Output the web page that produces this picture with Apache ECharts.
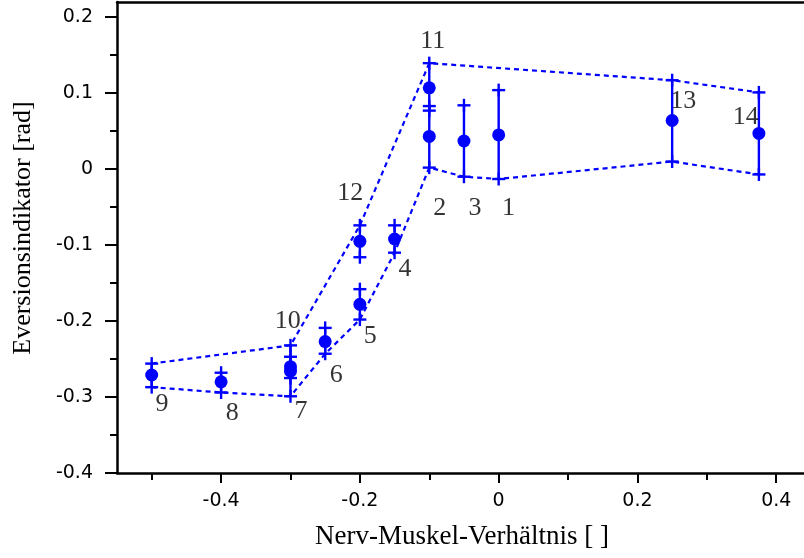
<!DOCTYPE html>
<html>
<head>
<meta charset="utf-8">
<script src="https://cdn.jsdelivr.net/npm/echarts@6/dist/echarts.min.js"></script>
<style>
  html, body { margin: 0; padding: 0; background: #fff; }
  #main { width: 804px; height: 558px; }
</style>
</head>
<body>
<div id="main"></div>
<script>
// measured points, numbered 1..14
let pointIds = ['1', '2', '3', '4', '5', '6', '7', '8', '9', '10', '11', '12', '13', '14'];
let xVals = [0, -0.1, -0.05, -0.15, -0.2, -0.25, -0.3, -0.4, -0.5, -0.3, -0.1, -0.2, 0.25, 0.375];
let yVals = [0.045, 0.043, 0.037, -0.092, -0.178, -0.227, -0.266, -0.280, -0.271, -0.260, 0.107, -0.095, 0.064, 0.047];
let yUpper = [0.104, 0.083, 0.084, -0.074, -0.158, -0.209, -0.247, -0.268, -0.256, -0.232, 0.1395, -0.074, 0.117, 0.101];
let yLower = [-0.013, 0.002, -0.010, -0.110, -0.198, -0.243, -0.299, -0.294, -0.287, -0.275, 0.077, -0.116, 0.010, -0.007];

// envelope (dashed) goes through these point ids
let upperPath = [9, 10, 12, 11, 13, 14];
let lowerPath = [9, 8, 7, 6, 5, 4, 2, 3, 1, 13, 14];

// where the number of each point is written (data units)
let labelX = [0.014, -0.085, -0.034, -0.135, -0.185, -0.234, -0.285, -0.384, -0.485, -0.304, -0.095, -0.214, 0.266, 0.356];
let labelY = [-0.051, -0.051, -0.051, -0.132, -0.220, -0.271, -0.318, -0.321, -0.310, -0.200, 0.168, -0.032, 0.089, 0.069];

// axis ticks
let xMajor = [-0.4, -0.2, 0, 0.2, 0.4];
let xMinor = [-0.5, -0.3, -0.1, 0.1, 0.3];
let yMajor = [-0.4, -0.3, -0.2, -0.1, 0, 0.1, 0.2];
let yMinor = [-0.35, -0.25, -0.15, -0.05, 0.05, 0.15];

let BLUE = '#0000ff';
let SERIF = 'Liberation Serif';

let chartDom = document.getElementById('main');
let myChart = echarts.init(chartDom);

function envelope(path, bound) {
    return path.map(function (id) {
        return [xVals[id - 1], bound[id - 1]];
    });
}

let barData = xVals.map(function (x, i) {
    return [x, yLower[i], yUpper[i]];
});

let axisLineStyle = { color: '#000', width: 2.5 };
let tickStyle = { color: '#000', width: 2 };

let option = {
    animation: false,
    grid: { left: 117, right: 0, top: 2, bottom: 85 },
    xAxis: [
        {
            type: 'value', min: -0.55, max: 0.44, position: 'bottom',
            splitLine: { show: false },
            axisLine: { onZero: false, lineStyle: axisLineStyle },
            axisTick: { customValues: xMajor, length: 10, lineStyle: tickStyle },
            axisLabel: { customValues: xMajor, margin: 19, fontFamily: 'DejaVu Sans', fontSize: 19, color: '#000' }
        },
        {
            type: 'value', min: -0.55, max: 0.44, position: 'bottom',
            splitLine: { show: false },
            axisLine: { show: false, onZero: false },
            axisTick: { customValues: xMinor, length: 7, lineStyle: tickStyle },
            axisLabel: { show: false }
        },
        {
            type: 'value', min: -0.55, max: 0.44, position: 'top',
            splitLine: { show: false },
            axisLine: { onZero: false, lineStyle: axisLineStyle },
            axisTick: { show: false },
            axisLabel: { show: false }
        }
    ],
    yAxis: [
        {
            type: 'value', min: -0.4, max: 0.22, position: 'left',
            splitLine: { show: false },
            axisLine: { onZero: false, lineStyle: axisLineStyle },
            axisTick: { customValues: yMajor, length: 12, lineStyle: tickStyle },
            axisLabel: { customValues: yMajor, margin: 24, fontFamily: 'DejaVu Sans', fontSize: 19, color: '#000' }
        },
        {
            type: 'value', min: -0.4, max: 0.22, position: 'left',
            splitLine: { show: false },
            axisLine: { show: false, onZero: false },
            axisTick: { customValues: yMinor, length: 7, lineStyle: tickStyle },
            axisLabel: { show: false }
        }
    ],
    graphic: [
        {
            type: 'text', x: 462, y: 537,
            style: {
                text: 'Nerv-Muskel-Verhältnis [ ]', fontFamily: SERIF, fontSize: 27,
                fill: '#000', align: 'center', verticalAlign: 'middle'
            }
        },
        {
            type: 'text', x: 23, y: 228, rotation: Math.PI / 2,
            style: {
                text: 'Eversionsindikator [rad]', fontFamily: SERIF, fontSize: 26,
                fill: '#000', align: 'center', verticalAlign: 'middle'
            }
        }
    ],
    series: [
        {
            name: 'upper',
            type: 'line',
            data: envelope(upperPath, yUpper),
            symbol: 'none',
            lineStyle: { color: BLUE, width: 2.2, type: [5, 4] },
            z: 2
        },
        {
            name: 'lower',
            type: 'line',
            data: envelope(lowerPath, yLower),
            symbol: 'none',
            lineStyle: { color: BLUE, width: 2.2, type: [5, 4] },
            z: 2
        },
        {
            name: 'errors',
            type: 'custom',
            data: barData,
            z: 3,
            renderItem: function (params, api) {
                let lo = api.coord([api.value(0), api.value(1)]);
                let hi = api.coord([api.value(0), api.value(2)]);
                let h = 6.5;
                let style = { stroke: BLUE, lineWidth: 2.4 };
                let children = [
                    { type: 'line', shape: { x1: lo[0], y1: lo[1], x2: hi[0], y2: hi[1] }, style: style }
                ];
                [lo, hi].forEach(function (p) {
                    children.push({ type: 'line', shape: { x1: p[0] - h, y1: p[1], x2: p[0] + h, y2: p[1] }, style: style });
                    children.push({ type: 'line', shape: { x1: p[0], y1: p[1] - h, x2: p[0], y2: p[1] + h }, style: style });
                });
                return { type: 'group', children: children };
            }
        },
        {
            name: 'points',
            type: 'scatter',
            data: xVals.map(function (x, i) { return [x, yVals[i]]; }),
            symbol: 'circle',
            symbolSize: 13,
            itemStyle: { color: BLUE, opacity: 1 },
            z: 4
        },
        {
            name: 'numbers',
            type: 'scatter',
            data: pointIds.map(function (id, i) {
                return { name: id, value: [labelX[i], labelY[i]] };
            }),
            symbolSize: 0,
            label: {
                show: true, position: 'inside', formatter: '{b}',
                fontFamily: SERIF, fontSize: 26, color: '#000'
            },
            z: 5
        }
    ]
};

myChart.setOption(option);
</script>
</body>
</html>
